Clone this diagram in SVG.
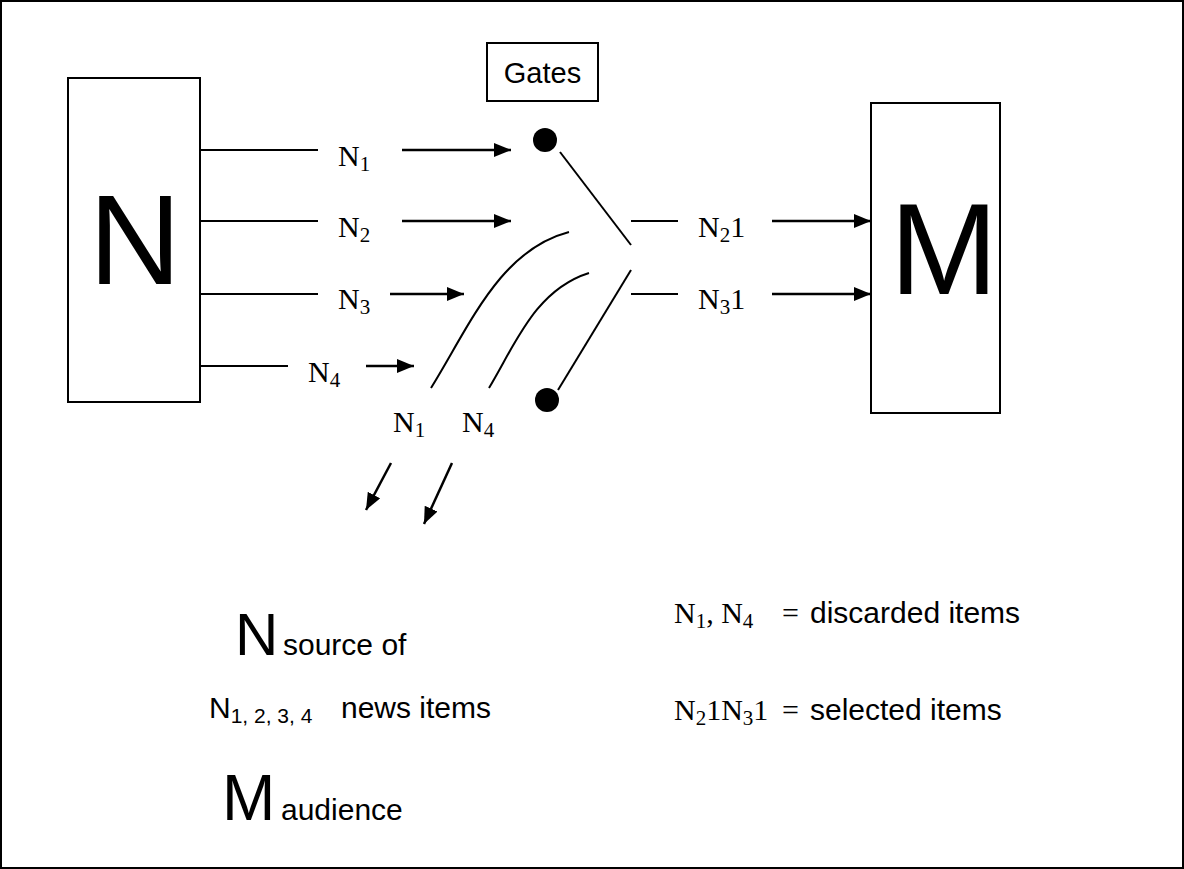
<svg xmlns="http://www.w3.org/2000/svg" width="1184" height="869" viewBox="0 0 1184 869">
<defs>
<marker id="ah" markerUnits="userSpaceOnUse" markerWidth="18" markerHeight="16" refX="17" refY="7" orient="auto">
<path d="M0,0 L17,7 L0,14 Z" fill="#000"/>
</marker>
<style>
.box{fill:#fff;stroke:#000;stroke-width:2}
.ln{fill:none;stroke:#000;stroke-width:2}
.ar{fill:none;stroke:#000;stroke-width:2.5;marker-end:url(#ah)}
.sans{font-family:"Liberation Sans",Arial,sans-serif;fill:#000}
.serif{font-family:"Liberation Serif","Times New Roman",serif;fill:#000}
.lbl{font-size:30px}
.sub{font-size:21px}
.body{font-size:30px}
</style>
</defs>
<rect x="1" y="1" width="1182" height="867" fill="#fff" stroke="#000" stroke-width="2"/>
<g id="node-N">
<rect class="box" x="68" y="78" width="132" height="324"/>
<text class="sans" x="135" y="284" font-size="128" text-anchor="middle">N</text>
</g>
<g id="node-Gates">
<rect class="box" x="487" y="43" width="111" height="58"/>
<text class="sans" x="542.5" y="83" font-size="29" text-anchor="middle">Gates</text>
</g>
<g id="node-M">
<rect class="box" x="871" y="103" width="129" height="310"/>
<text class="sans" x="944" y="294" font-size="130" text-anchor="middle">M</text>
</g>
<g id="gate-top">
<circle cx="545" cy="140" r="12" fill="#000"/>
</g>
<g id="gate-bottom">
<circle cx="547" cy="400" r="12" fill="#000"/>
</g>
<g id="connectors">
<line class="ln" x1="200" y1="150" x2="318" y2="150"/>
<line class="ln" x1="200" y1="221" x2="318" y2="221"/>
<line class="ln" x1="200" y1="294" x2="318" y2="294"/>
<line class="ln" x1="200" y1="366" x2="288" y2="366"/>
<line class="ar" x1="402" y1="150" x2="511" y2="150"/>
<line class="ar" x1="402" y1="221" x2="511" y2="221"/>
<line class="ar" x1="390" y1="294" x2="464" y2="294"/>
<line class="ar" x1="366" y1="366" x2="414" y2="366"/>
<line class="ln" x1="560" y1="152" x2="631" y2="245"/>
<line class="ln" x1="558" y1="390" x2="631" y2="270"/>
<path class="ln" d="M431,388 C470,325 500,250 569,232"/>
<path class="ln" d="M489,388 C515,345 535,290 589,273"/>
<line class="ln" x1="631" y1="221" x2="678" y2="221"/>
<line class="ln" x1="631" y1="294" x2="678" y2="294"/>
<line class="ar" x1="772" y1="221" x2="871" y2="221"/>
<line class="ar" x1="772" y1="294" x2="871" y2="294"/>
<line class="ar" x1="391" y1="463" x2="366" y2="510"/>
<line class="ar" x1="452" y1="463" x2="424" y2="524"/>
</g>
<g id="labels">
<text class="serif lbl" x="338" y="166">N<tspan class="sub" dy="5">1</tspan></text>
<text class="serif lbl" x="338" y="237">N<tspan class="sub" dy="5">2</tspan></text>
<text class="serif lbl" x="338" y="309">N<tspan class="sub" dy="5">3</tspan></text>
<text class="serif lbl" x="308" y="382">N<tspan class="sub" dy="5">4</tspan></text>
<text class="serif lbl" x="698" y="237">N<tspan class="sub" dy="5">2</tspan><tspan dy="-5">1</tspan></text>
<text class="serif lbl" x="698" y="309">N<tspan class="sub" dy="5">3</tspan><tspan dy="-5">1</tspan></text>
<text class="serif lbl" x="393" y="432">N<tspan class="sub" dy="5">1</tspan></text>
<text class="serif lbl" x="462" y="432">N<tspan class="sub" dy="5">4</tspan></text>
</g>
<g id="legend">
<text class="sans" x="235" y="655" font-size="60">N</text>
<text class="sans body" x="283" y="655">source of</text>
<text class="sans body" x="209" y="718">N<tspan font-size="21" dy="5">1, 2, 3, 4</tspan></text>
<text class="sans body" x="341" y="718">news items</text>
<text class="sans" x="222" y="820" font-size="64">M</text>
<text class="sans body" x="281" y="820">audience</text>
<text class="serif body" x="674" y="623">N<tspan font-size="21" dy="5">1</tspan><tspan dy="-5">, N</tspan><tspan font-size="21" dy="5">4</tspan></text>
<text class="serif body" x="782" y="623">=</text>
<text class="sans body" x="810" y="623">discarded items</text>
<text class="serif body" x="674" y="720">N<tspan font-size="21" dy="5">2</tspan><tspan dy="-5">1N</tspan><tspan font-size="21" dy="5">3</tspan><tspan dy="-5">1</tspan></text>
<text class="serif body" x="782" y="720">=</text>
<text class="sans body" x="810" y="720">selected items</text>
</g>
</svg>
